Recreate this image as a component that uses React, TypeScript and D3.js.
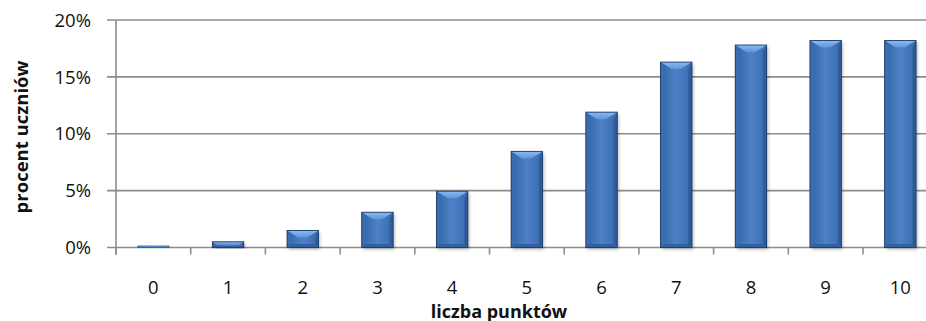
import React from "react";
import * as d3 from "d3";

// Share of students (%) by number of points scored
const categories = ["0", "1", "2", "3", "4", "5", "6", "7", "8", "9", "10"];
const values = [0.15, 0.5, 1.5, 3.1, 4.95, 8.45, 11.9, 16.3, 17.8, 18.2, 18.2];
const yTicks = [0, 5, 10, 15, 20];

const W = 926;
const H = 321;
const FONT = "'Open Sans', 'Liberation Sans', sans-serif";
const FS = 18.5;

export default function App() {
  const x = d3
    .scaleBand<string>()
    .domain(categories)
    .range([116, 937.7])
    .paddingInner(0.58)
    .paddingOuter(0.29);
  const y = d3.scaleLinear().domain([0, 20]).range([247.5, 20]);
  const step = x.step();
  const left = 116;
  const bw = x.bandwidth();

  return (
    <svg
      width={W}
      height={H}
      style={{ position: "absolute", left: 0, top: 0, background: "#fff" }}
      fontFamily={FONT}
    >
      <defs>
        <linearGradient id="body" x1="0" x2="1" y1="0" y2="0">
          <stop offset="0" stopColor="#3363a6" />
          <stop offset="0.5" stopColor="#4c82c8" />
          <stop offset="1" stopColor="#3869ab" />
        </linearGradient>
        <linearGradient id="topFacet" x1="0" x2="0" y1="0" y2="1">
          <stop offset="0" stopColor="#8cbaf2" />
          <stop offset="1" stopColor="#5f95da" />
        </linearGradient>
        <filter id="shadow" x="-30%" y="-10%" width="160%" height="130%">
          <feDropShadow dx="1.5" dy="2" stdDeviation="1.6" floodColor="#000" floodOpacity="0.28" />
        </filter>
      </defs>

      {/* horizontal gridlines */}
      {yTicks.map((t) => (
        <line
          key={t}
          x1={107}
          x2={W}
          y1={y(t)}
          y2={y(t)}
          stroke="#8c8c8c"
          strokeWidth={1.6}
        />
      ))}

      {/* y axis line */}
      <line x1={left} x2={left} y1={20} y2={254.5} stroke="#8c8c8c" strokeWidth={1.6} />

      {/* x axis ticks at category boundaries */}
      {categories.map((c, i) => (
        <line
          key={c}
          x1={left + i * step}
          x2={left + i * step}
          y1={247.5}
          y2={254.5}
          stroke="#8c8c8c"
          strokeWidth={1.6}
        />
      ))}

      {/* y tick labels */}
      {yTicks.map((t) => (
        <text
          key={t}
          x={91}
          y={y(t)}
          dy="0.36em"
          textAnchor="end"
          fontSize={FS}
          fill="#111"
        >
          {t}%
        </text>
      ))}

      {/* bars with bevelled faces */}
      {categories.map((c, i) => {
        const bx = x(c)!;
        const by = y(values[i]);
        const bh = y(0) - by;
        const b = Math.min(7, bh / 2, bw / 2);
        const r = bx + bw;
        const bot = by + bh;
        return (
          <g key={c}>
            <rect x={bx} y={by} width={bw} height={bh} fill="url(#body)" filter="url(#shadow)" />
            <polygon
              points={`${bx},${by} ${bx + b * 0.5},${by + b} ${bx + b * 0.5},${bot - b * 0.5} ${bx},${bot}`}
              fill="#3b6db0"
            />
            <polygon
              points={`${r},${by} ${r - b * 0.5},${by + b} ${r - b * 0.5},${bot - b * 0.5} ${r},${bot}`}
              fill="#2e5b9a"
            />
            <polygon
              points={`${bx},${bot} ${r},${bot} ${r - b * 0.5},${bot - b * 0.5} ${bx + b * 0.5},${bot - b * 0.5}`}
              fill="#345f9e"
            />
            <polygon
              points={`${bx},${by} ${r},${by} ${r - b * 1.6},${by + b} ${bx + b * 1.6},${by + b}`}
              fill="url(#topFacet)"
            />
            <rect
              x={bx}
              y={by}
              width={bw}
              height={bh}
              fill="none"
              stroke="#1d3b66"
              strokeWidth={0.9}
              strokeOpacity={bh > 3 ? 1 : 0.3}
            />
          </g>
        );
      })}

      {/* category labels */}
      {categories.map((c) => (
        <text
          key={c}
          x={x(c)! + bw / 2}
          y={293.5}
          textAnchor="middle"
          fontSize={FS}
          fill="#111"
        >
          {c}
        </text>
      ))}

      {/* axis titles */}
      <text
        x={499}
        y={317.5}
        textAnchor="middle"
        fontSize={18}
        fontWeight="bold"
        fill="#111"
      >
        liczba punktów
      </text>
      <text
        transform={`translate(28,137) rotate(-90)`}
        textAnchor="middle"
        fontSize={FS}
        fontWeight="bold"
        fill="#111"
      >
        procent uczniów
      </text>
    </svg>
  );
}
